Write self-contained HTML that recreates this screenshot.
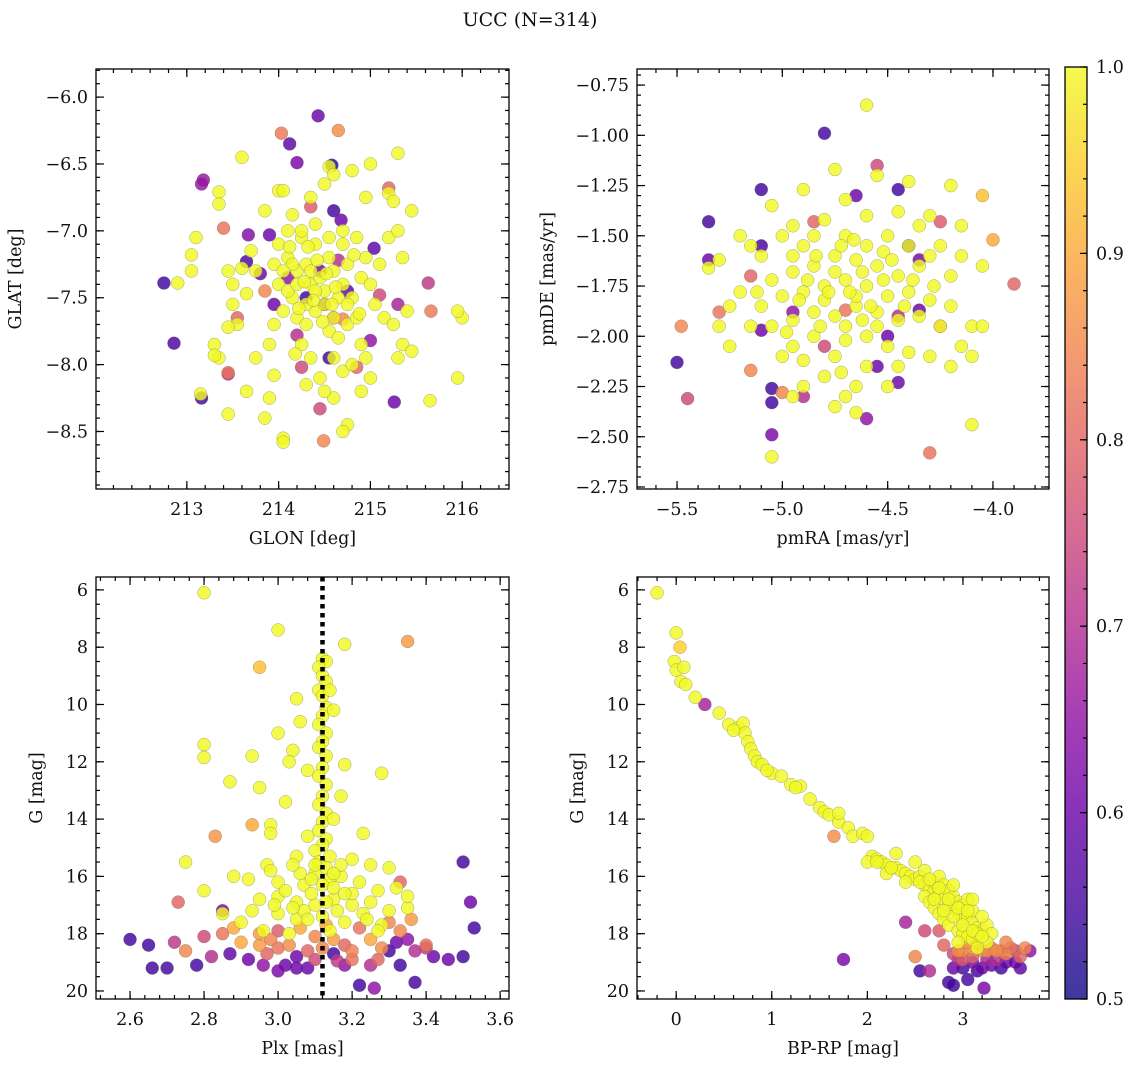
<!DOCTYPE html>
<html><head><meta charset="utf-8"><style>
html,body{margin:0;padding:0;background:#fff;}
svg text{font-family:"DejaVu Serif","Liberation Serif",serif;fill:#111;}
</style></head><body>
<svg id="fig" width="1136" height="1067" viewBox="0 0 1136 1067" xmlns="http://www.w3.org/2000/svg">
<text x="530" y="26" font-size="19" text-anchor="middle">UCC (N=314)</text>
<defs><linearGradient id="cbg" x1="0" y1="1" x2="0" y2="0">
<stop offset="0" stop-color="#0d0887"/><stop offset="0.1" stop-color="#41049d"/><stop offset="0.2" stop-color="#6a00a8"/><stop offset="0.3" stop-color="#8f0da4"/><stop offset="0.4" stop-color="#b12a90"/><stop offset="0.5" stop-color="#cc4778"/><stop offset="0.6" stop-color="#e16462"/><stop offset="0.7" stop-color="#f2844b"/><stop offset="0.8" stop-color="#fca636"/><stop offset="0.9" stop-color="#fcce25"/><stop offset="1" stop-color="#f0f921"/></linearGradient></defs>
</svg>
<script>
// ---- data: [x, y, probability] ----
const glonGlatPoints = [
[212.75,-7.39,.55],[212.86,-7.84,.56],[213.18,-6.62,.66],[213.16,-6.65,.66],[213.16,-8.25,.55],[213.45,-8.06,.82],[213.45,-8.07,.7],[214.03,-6.27,.83],[214.12,-6.35,.58],[214.43,-6.14,.6],[214.65,-6.25,.86],[214.2,-6.49,.62],[214.58,-6.51,.52],[213.65,-7.23,.56],[213.67,-7.03,.63],[213.9,-7.03,.6],[215.63,-7.39,.72],[215.66,-7.6,.83],[215.26,-8.28,.6],[214.45,-8.33,.75],[214.49,-8.57,.85],[214.35,-6.82,.78],[214.6,-6.85,.55],[214.68,-6.92,.6],[215.04,-7.13,.58],[215.1,-7.48,.75],[215.0,-7.82,.65],[214.85,-8.02,.8],[214.5,-7.55,.6],[214.3,-7.5,.55],[214.1,-7.35,.65],[214.6,-7.65,.72],[214.45,-7.3,.6],[214.2,-7.78,.7],[213.85,-7.45,.85],[213.55,-7.65,.8],[213.4,-6.98,.82],[213.8,-7.32,.6],[214.55,-7.95,.55],[214.7,-7.66,.85],[215.3,-7.55,.68],[214.25,-8.02,.75],[213.95,-7.55,.6],[214.65,-7.22,.7],[215.2,-6.68,.8],[214.75,-7.45,.58],
[213.35,-6.71,1],[213.35,-6.8,1],[213.6,-6.45,1],[214.0,-6.7,1],[214.05,-6.7,1],[214.55,-6.52,1],[214.6,-6.58,1],[214.8,-6.55,1],[215.0,-6.5,1],[215.3,-6.42,1],[214.15,-6.88,1],[214.95,-6.75,1],[215.2,-6.72,1],[215.25,-6.78,1],[215.45,-6.85,1],[214.4,-6.95,1],[214.7,-7.0,1],[214.25,-7.05,1],[214.5,-6.65,1],[213.85,-6.85,1],
[213.1,-7.05,1],[213.05,-7.18,1],[213.05,-7.3,1],[212.9,-7.39,1],[213.45,-7.3,1],[213.5,-7.4,1],[213.5,-7.55,1],[213.55,-7.7,1],[213.45,-7.72,1],[213.3,-7.85,1],[213.35,-7.95,1],[213.3,-7.93,1],[213.15,-8.22,1],[213.45,-8.37,1],[213.65,-8.2,1],[213.85,-8.4,1],[213.9,-8.25,1],[214.05,-8.55,1],[214.05,-8.58,1],[213.95,-8.08,1],[213.75,-7.95,1],[213.9,-7.85,1],[213.65,-7.47,1],[213.6,-7.28,1],[213.75,-7.3,1],
[214.0,-7.1,1],[214.1,-7.2,1],[214.2,-7.3,1],[214.3,-7.25,1],[214.35,-7.4,1],[214.45,-7.35,1],[214.5,-7.45,1],[214.55,-7.2,1],[214.6,-7.3,1],[214.7,-7.4,1],[214.75,-7.25,1],[214.8,-7.5,1],[214.9,-7.35,1],[214.95,-7.2,1],[215.0,-7.4,1],[215.05,-7.55,1],[214.15,-7.5,1],[214.05,-7.6,1],[214.2,-7.65,1],[214.3,-7.7,1],[214.4,-7.6,1],[214.55,-7.75,1],[214.65,-7.8,1],[214.75,-7.7,1],[214.85,-7.65,1],[214.9,-7.85,1],[214.25,-7.85,1],[214.35,-7.95,1],[214.45,-8.1,1],[214.6,-7.95,1],[214.7,-8.05,1],[214.8,-8.0,1],[214.0,-7.4,1],[213.95,-7.25,1],[214.1,-7.0,1],[214.25,-7.0,1],[214.4,-7.1,1],[214.55,-7.05,1],[214.7,-7.1,1],[214.85,-7.05,1],[215.1,-7.25,1],[215.2,-7.05,1],[215.35,-7.2,1],[215.3,-7.0,1],[215.15,-7.65,1],[215.25,-7.7,1],[215.4,-7.6,1],[215.35,-7.85,1],[215.3,-7.95,1],[215.45,-7.9,1],[215.0,-8.1,1],[214.9,-8.2,1],[214.75,-8.45,1],[214.7,-8.5,1],[214.6,-8.25,1],[214.3,-8.15,1],[214.5,-8.2,1],[215.65,-8.27,1],[215.95,-8.1,1],[216.0,-7.65,1],[215.95,-7.6,1],[214.1,-7.45,1],[214.3,-7.55,1],[214.5,-7.55,1],[214.65,-7.5,1],[214.6,-7.65,1],[214.35,-7.3,1],[214.2,-7.4,1],[214.4,-7.45,1],
[214.15,-7.25,1],[214.28,-7.38,1],[214.42,-7.22,1],[214.52,-7.32,1],[214.62,-7.42,1],[214.38,-7.52,1],[214.22,-7.58,1],[214.48,-7.68,1],[214.58,-7.55,1],[214.12,-7.12,1],[214.32,-7.12,1],[214.82,-7.18,1],[214.88,-7.62,1],[214.05,-7.3,1],[214.75,-7.55,1],[214.18,-7.92,1],[213.95,-7.7,1],[214.35,-6.75,1],[214.95,-7.95,1],[213.7,-7.15,1]
];
const pmPoints = [
[-4.8,-0.99,.55],[-5.5,-2.13,.55],[-5.45,-2.31,.75],[-5.48,-1.95,.85],[-5.35,-1.43,.55],[-3.9,-1.74,.8],[-4.0,-1.52,.9],[-4.05,-1.3,.93],[-4.3,-2.58,.82],[-5.05,-2.49,.62],[-4.6,-2.41,.65],[-4.45,-2.23,.6],[-5.1,-1.27,.55],[-4.45,-1.27,.55],[-4.55,-1.15,.75],[-5.05,-2.33,.55],[-5.05,-2.26,.55],[-5.3,-1.88,.82],[-5.35,-1.62,.6],[-5.1,-1.97,.6],[-5.15,-2.17,.85],[-5.0,-2.28,.85],[-4.9,-2.3,.7],[-4.85,-1.43,.8],[-4.95,-1.88,.65],[-4.5,-2.0,.6],[-4.35,-1.62,.62],[-4.25,-1.95,.82],[-4.35,-1.87,.6],[-4.4,-1.55,.55],[-4.65,-1.3,.6],[-5.1,-1.55,.56],[-5.15,-1.7,.8],[-4.8,-2.05,.75],[-4.55,-2.15,.6],[-4.25,-1.43,.78],[-4.7,-1.87,.82],[-4.45,-1.9,.7],
[-4.6,-0.85,1],[-4.75,-1.17,1],[-4.55,-1.2,1],[-4.4,-1.23,1],[-4.2,-1.25,1],[-4.9,-1.27,1],[-4.7,-1.32,1],[-5.05,-1.35,1],[-4.3,-1.4,1],[-4.15,-1.45,1],[-4.95,-1.45,1],[-4.8,-1.42,1],[-5.2,-1.5,1],[-5.15,-1.55,1],[-5.3,-1.62,1],[-5.35,-1.66,1],[-5.1,-1.6,1],[-4.9,-1.55,1],[-4.7,-1.5,1],[-4.6,-1.55,1],[-4.5,-1.5,1],[-4.4,-1.55,1],[-4.25,-1.55,1],[-4.15,-1.6,1],[-4.05,-1.65,1],[-4.2,-1.7,1],[-4.35,-1.65,1],[-4.45,-1.7,1],[-4.55,-1.65,1],[-4.65,-1.62,1],[-4.75,-1.6,1],[-4.85,-1.65,1],[-4.95,-1.68,1],[-5.05,-1.72,1],[-5.2,-1.78,1],[-5.25,-1.85,1],[-5.1,-1.85,1],[-5.0,-1.8,1],[-4.9,-1.78,1],[-4.8,-1.75,1],[-4.7,-1.72,1],[-4.6,-1.75,1],[-4.5,-1.8,1],[-4.4,-1.78,1],[-4.3,-1.82,1],[-4.2,-1.85,1],[-4.1,-1.95,1],[-4.05,-1.95,1],[-4.15,-2.05,1],[-4.25,-1.95,1],[-4.35,-1.9,1],[-4.45,-1.92,1],[-4.55,-1.88,1],[-4.65,-1.85,1],[-4.75,-1.9,1],[-4.85,-1.88,1],[-4.95,-1.92,1],[-5.05,-1.95,1],[-5.15,-1.95,1],[-5.3,-1.95,1],[-5.25,-2.05,1],[-4.95,-2.05,1],[-4.85,-2.0,1],[-4.7,-2.02,1],[-4.6,-2.0,1],[-4.5,-2.05,1],[-4.4,-2.08,1],[-4.3,-2.1,1],[-4.2,-2.15,1],[-4.1,-2.1,1],[-4.45,-2.15,1],[-4.6,-2.15,1],[-4.75,-2.1,1],[-4.9,-2.12,1],[-5.0,-2.1,1],[-4.8,-2.2,1],[-4.65,-2.25,1],[-4.7,-2.3,1],[-4.9,-2.25,1],[-4.95,-2.3,1],[-4.5,-2.25,1],[-4.75,-2.35,1],[-4.65,-2.38,1],[-4.1,-2.44,1],[-5.05,-2.6,1],[-4.6,-1.4,1],[-4.45,-1.38,1],[-4.85,-1.5,1],[-4.65,-1.8,1],[-4.55,-1.95,1],[-4.75,-1.68,1],[-4.95,-1.6,1],[-4.35,-1.45,1],[-4.7,-1.95,1],[-4.8,-1.82,1],[-5.0,-1.5,1],[-4.3,-1.6,1],
[-4.72,-1.55,1],[-4.62,-1.68,1],[-4.52,-1.72,1],[-4.78,-1.78,1],[-4.68,-1.78,1],[-4.58,-1.85,1],[-4.88,-1.72,1],[-4.42,-1.85,1],[-4.82,-1.95,1],[-4.62,-1.92,1],[-4.52,-1.58,1],[-4.92,-1.82,1],[-4.38,-1.72,1],[-4.72,-2.18,1],[-5.12,-1.78,1],[-4.28,-1.75,1],[-4.98,-1.98,1],[-4.48,-1.62,1],[-4.66,-1.52,1],[-4.84,-1.6,1]
];
const plxGPoints = [
[3.35,7.8,.88],[2.73,16.9,.8],[2.85,17.2,.62],[2.6,18.2,.55],[2.65,18.4,.55],[2.66,19.2,.55],[2.72,18.3,.72],[2.75,18.6,.85],[2.7,19.2,.55],[2.78,19.1,.55],[2.8,18.1,.75],[2.82,18.8,.7],[2.87,18.7,.58],[2.92,18.9,.6],[2.95,18.4,.88],[2.96,19.1,.65],[3.0,18.5,.82],[3.02,19.1,.6],[3.05,18.8,.6],[3.08,19.2,.6],[3.05,19.2,.6],[3.12,18.5,.85],[3.15,18.7,.55],[3.18,19.1,.65],[3.2,18.9,.82],[3.22,19.8,.55],[3.26,19.9,.65],[3.27,18.9,.8],[3.3,18.6,.55],[3.32,18.3,.6],[3.33,19.1,.55],[3.35,18.2,.65],[3.37,18.6,.7],[3.4,18.4,.82],[3.42,18.8,.6],[3.37,19.7,.55],[3.46,18.9,.6],[3.5,15.5,.55],[3.52,16.9,.6],[3.53,17.8,.55],[3.5,18.8,.55],[3.4,18.5,.72],[3.33,16.2,.8],[3.3,17.6,.85],[3.1,18.1,.85],[2.98,18.2,.85],[3.25,18.2,.9],[3.18,18.4,.8],[2.9,18.3,.9],[3.22,17.8,.82],[3.0,17.9,.78],[2.85,18.0,.82],
[2.95,18.0,.88],[3.03,18.4,.86],[3.08,18.6,.8],[3.15,18.2,.88],[3.2,18.6,.84],[3.28,18.5,.86],[3.33,17.9,.85],[2.97,18.7,.8],[3.1,18.9,.75],[3.25,19.1,.7],[3.0,19.3,.62],[3.16,18.95,.72],[2.88,17.8,.9],[3.36,17.5,.88],[3.13,17.7,.9],[3.06,17.8,.9],
[3.12,8.4,1],[3.13,8.5,1],[3.11,8.7,1],[3.12,9.0,1],[3.13,9.2,1],[3.11,9.5,1],[3.12,9.7,1],[3.13,10.1,1],[3.12,10.4,1],[3.11,10.7,1],[3.13,11.0,1],[3.12,11.3,1],[3.11,11.5,1],[3.13,11.8,1],[3.12,12.2,1],[3.11,12.5,1],[3.13,12.8,1],[3.12,13.2,1],[3.11,13.5,1],[3.13,13.8,1],[3.12,14.1,1],[3.11,14.4,1],[3.13,14.7,1],[3.12,14.9,1],[3.1,15.1,1],[3.14,15.3,1],[3.11,15.5,1],[3.13,15.7,1],[3.1,15.9,1],[3.14,16.1,1],[3.12,16.3,1],
[3.18,7.9,1],[3.0,7.4,1],[2.8,6.1,1],[2.95,8.7,.93],[3.05,9.8,1],[3.14,9.5,1],[3.06,10.6,1],[3.15,10.2,1],[3.0,11.0,1],[3.04,11.6,1],[2.93,11.8,1],[2.8,11.4,1],[2.8,11.85,1],[3.03,12.0,1],[3.08,12.3,1],[2.95,12.9,1],[3.18,12.1,1],[3.28,12.4,1],[2.87,12.7,1],[3.17,13.2,1],[3.02,13.4,1],[3.15,14.0,1],[2.98,14.2,1],[2.98,14.5,1],[3.08,14.6,1],[3.23,14.5,1],[2.93,14.2,.9],[2.75,15.5,1],[2.83,14.6,.87],[2.97,15.6,1],[3.05,15.3,1],[3.2,15.4,1],[3.25,15.6,1],[3.3,15.7,1],[2.88,16.0,1],[2.92,16.1,1],[3.0,16.2,1],[3.07,16.3,1],[3.17,16.0,1],[3.22,16.2,1],[3.27,16.5,1],[3.32,16.4,1],[2.8,16.5,1],[2.95,16.8,1],[3.0,16.7,1],[3.05,16.9,1],[3.1,17.0,1],[3.15,16.8,1],[3.2,17.0,1],[3.25,16.9,1],[3.3,17.2,1],[3.35,17.1,1],[2.85,17.3,1],[2.9,17.6,1],[3.0,17.3,1],[3.05,17.5,1],[3.12,17.4,1],[3.18,17.6,1],[3.23,17.3,1],[3.28,17.7,1],[2.96,17.9,1],[3.03,18.0,1],[3.14,17.9,1],[3.06,15.9,1],[2.98,15.8,1],[3.17,15.6,1],[3.35,16.7,1],[3.27,17.9,1],[3.07,17.2,1],[3.2,16.6,1],
[3.09,16.1,1],[3.15,16.4,1],[3.02,16.5,1],[3.18,16.6,1],[3.09,16.6,1],[3.13,16.9,1],[3.04,17.1,1],[3.16,17.2,1],[3.08,17.5,1],[2.99,17.0,1],[3.24,17.5,1],[2.93,17.2,1],[3.1,15.6,1],[3.15,15.9,1],[3.04,15.6,1]
];
const cmdPoints = [
[0.3,10.0,.68],[1.65,14.6,.86],[2.4,17.6,.68],[2.6,17.9,.75],[1.75,18.9,.62],[2.5,18.8,.85],[2.55,19.3,.55],[2.65,19.3,.7],[2.85,19.7,.55],[2.9,19.8,.55],[3.05,19.6,.55],[3.22,19.9,.62],[2.9,19.2,.6],[3.0,19.2,.55],[3.1,19.0,.62],[3.2,19.2,.6],[3.3,19.1,.6],[3.45,19.0,.6],[3.55,19.0,.6],[3.6,18.8,.8],[3.7,18.6,.65],[3.65,18.5,.85],[3.5,18.5,.82],[3.4,18.6,.8],[3.3,18.5,.85],[3.2,18.6,.85],[3.1,18.5,.88],[3.0,18.6,.85],[2.95,18.9,.7],[3.15,19.3,.55],[3.35,18.9,.7],[3.45,18.3,.85],[2.8,18.4,.8],[2.9,18.7,.75],[3.25,18.9,.68],[3.55,18.6,.75],[3.6,19.2,.58],[3.4,19.2,.55],[2.75,17.9,.78],
[3.05,18.3,.88],[3.15,18.3,.88],[3.25,18.6,.86],[3.35,18.6,.86],[2.95,18.6,.86],[3.1,18.8,.8],[3.45,18.7,.84],[3.0,18.9,.78],
[-0.2,6.1,1],[0.0,7.5,1],[0.04,8.0,.95],[-0.02,8.5,1],[0.0,8.8,1],[0.08,8.7,1],[0.05,9.2,1],[0.1,9.3,1],[0.2,9.75,1],[0.45,10.3,1],[0.55,10.7,1],[0.65,10.8,1],[0.7,10.65,1],[0.72,11.0,1],[0.75,11.3,1],[0.78,11.55,1],[0.82,11.8,1],[0.85,12.0,1],[0.9,12.1,1],[1.0,12.4,1],[1.1,12.5,1],[1.2,12.8,1],[1.3,12.85,1],[1.4,13.3,1],[1.5,13.6,1],[1.55,13.75,1],[1.6,13.85,1],[1.7,14.1,1],[1.8,14.3,1],[1.85,14.6,1],[1.95,14.5,1],[2.0,14.6,1],[2.05,15.3,1],[2.1,15.4,1],[2.15,15.5,1],[2.2,15.6,1],[2.3,15.7,1],[2.35,15.8,1],[2.4,15.9,1],[2.45,16.0,1],[2.3,15.2,1],[2.5,16.1,1],[2.55,16.0,1],[2.6,16.3,1],[2.65,16.4,1],[2.7,16.5,1],[2.75,16.6,1],[2.8,16.8,1],[2.85,17.0,1],[2.9,17.1,1],[2.95,17.3,1],[3.0,17.5,1],[3.05,17.4,1],[3.1,17.6,1],[3.15,17.8,1],[3.2,17.9,1],[3.25,17.7,1],[2.7,16.2,1],[2.75,16.0,1],[2.8,16.3,1],[2.85,16.5,1],[2.9,16.7,1],[2.95,16.9,1],[3.0,17.0,1],[3.1,17.2,1],[2.6,16.7,1],[2.65,16.9,1],[2.7,17.1,1],[2.75,17.3,1],[2.8,17.5,1],[2.85,17.7,1],[2.9,17.4,1],[2.95,17.9,1],[3.0,18.0,1],[3.05,18.1,1],[3.1,18.2,1],[3.15,18.0,1],[3.2,17.4,1],[3.3,18.0,1],[2.2,15.9,1],[2.0,15.5,1],[1.7,13.8,1],[2.6,15.8,1],[2.5,15.5,1],[2.4,16.2,1],[3.25,18.3,1],[3.15,18.5,1],[2.95,18.3,1],[3.05,16.8,1],[2.9,16.3,1],[3.1,16.8,1],
[2.1,15.5,1],[2.25,15.7,1],[2.55,16.2,1],[2.65,16.1,1],[2.75,16.4,1],[2.85,16.8,1],[2.95,17.1,1],[3.05,17.2,1],[3.0,17.7,1],[3.1,17.9,1],[3.2,18.1,1],[2.8,17.2,1],[2.7,16.8,1],[1.25,12.9,1],[0.95,12.3,1],[0.6,10.9,1]
];
const plxMedian = [3.12];
const glonTicks = [213,214,215,216];
const glatTicks = [-6.0,-6.5,-7.0,-7.5,-8.0,-8.5];
const pmraTicks = [-5.5,-5.0,-4.5,-4.0];
const pmdeTicks = [-0.75,-1.00,-1.25,-1.50,-1.75,-2.00,-2.25,-2.50,-2.75];
const plxTicks = [2.6,2.8,3.0,3.2,3.4,3.6];
const gTicks = [6,8,10,12,14,16,18,20];
const bprpTicks = [0,1,2,3];
const cbarTicks = [0.5,0.6,0.7,0.8,0.9,1.0];

const NS='http://www.w3.org/2000/svg';
const svg=document.getElementById('fig');
function mk(tag,attrs,parent){const e=document.createElementNS(NS,tag);for(const k in attrs)e.setAttribute(k,attrs[k]);(parent||svg).appendChild(e);return e;}
const stops=[[13,8,135],[65,4,157],[106,0,168],[143,13,164],[177,42,144],[204,71,120],[225,100,98],[242,132,75],[252,166,54],[252,206,37],[240,249,33]];
function cmap(v){let t=(v-0.5)/0.5;t=Math.max(0,Math.min(1,t));const f=t*10,i=Math.min(9,Math.floor(f)),r=f-i;const a=stops[i],b=stops[i+1];return 'rgb('+a.map((c,k)=>Math.round(c+(b[k]-c)*r)).join(',')+')';}
function lin(d0,d1,r0,r1){return v=>r0+(v-d0)/(d1-d0)*(r1-r0);}
function fmt(v,dec){return (v<0?'\u2212':'')+Math.abs(v).toFixed(dec);}
const FS=17.5;

function panel(o){
  const g=mk('g',{});
  
  
  const sx=lin(o.xd[0],o.xd[1],o.L,o.R), sy=lin(o.yd[0],o.yd[1],o.T,o.B);
  const tk=mk('g',{stroke:'#000','stroke-width':1.2},g);
  
  
  const xs=Math.min(o.xd[0],o.xd[1]),xe=Math.max(o.xd[0],o.xd[1]);
  for(let v=Math.ceil(xs/o.xm)*o.xm;v<=xe;v+=o.xm){const X=sx(v);mk('line',{x1:X,x2:X,y1:o.B,y2:o.B-4},tk);mk('line',{x1:X,x2:X,y1:o.T,y2:o.T+4},tk);}
  const ys=Math.min(o.yd[0],o.yd[1]),ye=Math.max(o.yd[0],o.yd[1]);
  for(let v=Math.ceil(ys/o.ym)*o.ym;v<=ye;v+=o.ym){const Y=sy(v);mk('line',{x1:o.L,x2:o.L+4,y1:Y,y2:Y},tk);mk('line',{x1:o.R,x2:o.R-4,y1:Y,y2:Y},tk);}
  o.xt.forEach(v=>{const X=sx(v);mk('line',{x1:X,x2:X,y1:o.B,y2:o.B-8},tk);mk('line',{x1:X,x2:X,y1:o.T,y2:o.T+8},tk);
    const t=mk('text',{x:X,y:o.B+26,'font-size':FS,'text-anchor':'middle'},g);t.textContent=fmt(v,o.xdec);
    
    });
  o.yt.forEach(v=>{const Y=sy(v);mk('line',{x1:o.L,x2:o.L+8,y1:Y,y2:Y},tk);mk('line',{x1:o.R,x2:o.R-8,y1:Y,y2:Y},tk);
    const t=mk('text',{x:o.L-8,y:Y+6,'font-size':FS,'text-anchor':'end'},g);t.textContent=fmt(v,o.ydec);
    
    });
  const pts=o.pts.slice().sort((a,b)=>a[2]-b[2]);
  const pg=mk('g',{},g);
  
  
  pts.forEach(p=>{const c=mk('circle',{cx:sx(p[0]),cy:sy(p[1]),r:6.5,fill:cmap(p[2]),'fill-opacity':0.82,stroke:'#666','stroke-width':0.4,'stroke-opacity':0.7},pg);
    
    });
  if(o.vline!==undefined){const X=sx(o.vline);const l=mk('line',{x1:X,x2:X,y1:o.T,y2:o.B,stroke:'#000','stroke-width':4.5,'stroke-dasharray':'4.5 4.5'},g);
    
    }
  const fr=mk('rect',{x:o.L,y:o.T,width:o.R-o.L,height:o.B-o.T,fill:'none',stroke:'#000','stroke-width':1.3},g);
  
  
  const xl=mk('text',{x:(o.L+o.R)/2,y:o.B+55,'font-size':FS,'text-anchor':'middle'},g);xl.textContent=o.xlab;
  
  
  const yx=o.L-o.ylo, yy=(o.T+o.B)/2;
  const yl=mk('text',{x:yx,y:yy,'font-size':FS,'text-anchor':'middle',transform:'rotate(-90 '+yx+' '+yy+')'},g);yl.textContent=o.ylab;
  
  
}
panel({name:'glon-glat-panel',L:96,R:509,T:69,B:489,xd:[212.01,216.51],yd:[-5.79,-8.93],xt:glonTicks,yt:glatTicks,xm:0.2,ym:0.1,xdec:0,ydec:1,pts:glonGlatPoints,xlab:'GLON [deg]',ylab:'GLAT [deg]',ylo:75});
panel({name:'pm-panel',L:637,R:1049,T:69,B:489,xd:[-5.69,-3.734],yd:[-0.67,-2.76],xt:pmraTicks,yt:pmdeTicks,xm:0.1,ym:0.05,xdec:1,ydec:2,pts:pmPoints,xlab:'pmRA [mas/yr]',ylab:'pmDE [mas/yr]',ylo:84});
panel({name:'plx-g-panel',L:96,R:509,T:577,B:999,xd:[2.508,3.624],yd:[5.55,20.28],xt:plxTicks,yt:gTicks,xm:0.04,ym:0.5,xdec:1,ydec:0,pts:plxGPoints,xlab:'Plx [mas]',ylab:'G [mag]',ylo:54,vline:plxMedian[0]});
panel({name:'cmd-panel',L:637,R:1049,T:577,B:999,xd:[-0.41,3.9],yd:[5.55,20.28],xt:bprpTicks,yt:gTicks,xm:0.2,ym:0.5,xdec:0,ydec:0,pts:cmdPoints,xlab:'BP-RP [mag]',ylab:'G [mag]',ylo:54});

const cb=mk('g',{});


const cy=lin(0.5,1.0,999,67);
mk('rect',{x:1065,y:67,width:22,height:932,fill:'url(#cbg)','fill-opacity':0.8},cb);
mk('rect',{x:1065,y:67,width:22,height:932,fill:'none',stroke:'#000','stroke-width':1.3},cb);
for(let v=0.5;v<=1.0001;v+=0.02){const Y=cy(v);mk('line',{x1:1087,x2:1083,y1:Y,y2:Y,stroke:'#000','stroke-width':1.2},cb);}
cbarTicks.forEach(v=>{const Y=cy(v);mk('line',{x1:1087,x2:1080,y1:Y,y2:Y,stroke:'#000','stroke-width':1.2},cb);
  const t=mk('text',{x:1096,y:Y+6,'font-size':FS},cb);t.textContent=v.toFixed(1);
  
  });
</script>
</body></html>
